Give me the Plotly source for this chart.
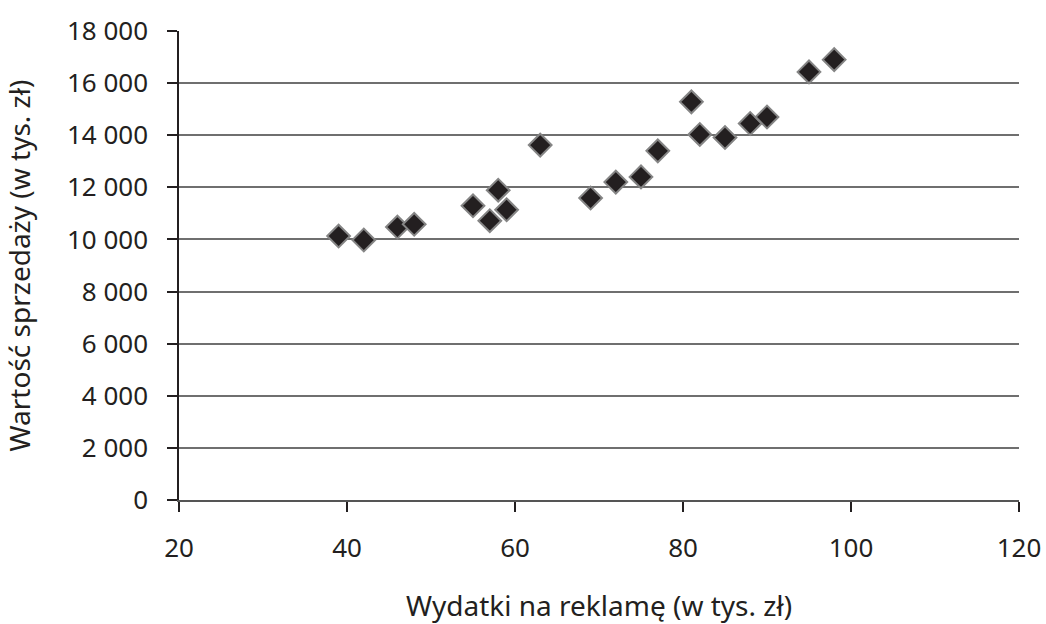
import plotly.graph_objects as go

# Advertising spend vs. sales value (both in thousands of PLN)
wydatki = [39, 42, 46, 48, 55, 57, 58, 59, 63, 69, 72, 75, 77, 81, 82, 85, 88, 90, 95, 98]
sprzedaz = [10130, 9980, 10475, 10580, 11290, 10720, 11890, 11140, 13620, 11590,
            12200, 12400, 13400, 15280, 14030, 13910, 14450, 14700, 16430, 16900]

x_ticks = [20, 40, 60, 80, 100, 120]
y_ticks = [0, 2000, 4000, 6000, 8000, 10000, 12000, 14000, 16000, 18000]

FONT = "Noto Sans"
GRID = "#6f6f6f"
INK = "#231f20"

fig = go.Figure(
    go.Scatter(
        x=wydatki,
        y=sprzedaz,
        mode="markers",
        marker=dict(symbol="diamond", size=17.5, color=INK,
                    line=dict(color="#858585", width=2)),
        showlegend=False,
    )
)

fig.update_layout(
    width=1046,
    height=624,
    margin=dict(l=179, r=27, t=31, b=124),
    paper_bgcolor="white",
    plot_bgcolor="white",
    separators=", ",
    font=dict(family=FONT, size=26, color=INK),
)

fig.update_xaxes(
    range=[20, 120],
    tickvals=x_ticks,
    ticks="outside",
    ticklen=10,
    tickwidth=1.5,
    tickcolor=INK,
    showgrid=False,
    zeroline=False,
    showline=True,
    linecolor="#555555",
    linewidth=1.5,
    automargin=False,
    ticklabelstandoff=14,
    title=dict(text="Wydatki na reklamę (w tys. zł)", standoff=34,
               font=dict(size=28)),
)

fig.update_yaxes(
    range=[0, 18000],
    tickvals=y_ticks,
    tickformat=",d",
    ticks="outside",
    ticklen=10,
    tickwidth=1.5,
    tickcolor=INK,
    showgrid=True,
    gridcolor=GRID,
    gridwidth=1.5,
    zeroline=False,
    showline=True,
    linecolor=INK,
    linewidth=1.5,
    automargin=False,
    ticklabelstandoff=14,
    title=dict(text="Wartość sprzedaży (w tys. zł)", standoff=30,
               font=dict(size=28)),
)

fig.write_html("out.html")
